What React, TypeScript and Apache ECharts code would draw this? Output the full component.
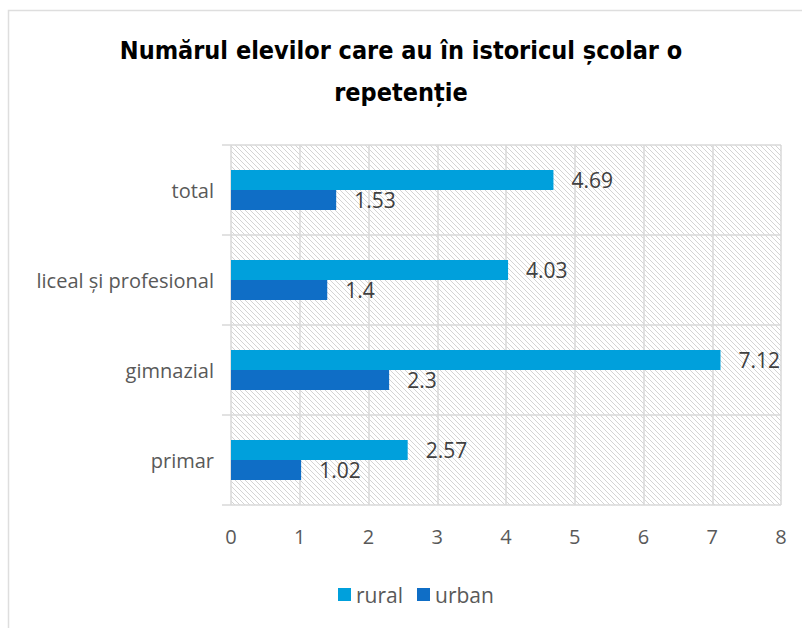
import React, { useEffect, useRef } from "react";
import * as echarts from "echarts";

const titleText = "Numărul elevilor care au în istoricul școlar o\nrepetenție";
const categories = ["primar", "gimnazial", "liceal și profesional", "total"];
const seriesNames = ["rural", "urban"];
const ruralValues = [2.57, 7.12, 4.03, 4.69];
const urbanValues = [1.02, 2.3, 1.4, 1.53];
const xTicks = { min: 0, max: 8, interval: 1 };

function makeHatch(): string {
  const s = 5;
  const c = document.createElement("canvas");
  c.width = s;
  c.height = s;
  const ctx = c.getContext("2d")!;
  ctx.fillStyle = "#ffffff";
  ctx.fillRect(0, 0, s, s);
  ctx.strokeStyle = "#d4d4d4";
  ctx.lineWidth = 1;
  ctx.beginPath();
  ctx.moveTo(-1, -1);
  ctx.lineTo(s + 1, s + 1);
  ctx.moveTo(-1, s - 1);
  ctx.lineTo(1, s + 1);
  ctx.moveTo(s - 1, -1);
  ctx.lineTo(s + 1, 1);
  ctx.stroke();
  return c.toDataURL();
}

export default function App() {
  const ref = useRef<HTMLDivElement>(null);
  useEffect(() => {
    if (!ref.current) return;
    const chart = echarts.init(ref.current, undefined, { renderer: "svg" });
    const hatch = makeHatch();
    const labelFont = "'Open Sans', 'Noto Sans', sans-serif";
    chart.setOption({
      animation: false,
      backgroundColor: "#ffffff",
      title: {
        text: titleText,
        left: "center",
        top: 24,
        textStyle: {
          fontFamily: "'Liberation Sans Narrow', 'Arial Narrow', 'DejaVu Sans Condensed', sans-serif",
          fontWeight: "bold",
          fontSize: 25,
          lineHeight: 42,
          color: "#000000",
        },
      },
      graphic: [
        {
          type: "rect",
          shape: { x: 8.5, y: 10.5, width: 820, height: 640 },
          style: { fill: "none", stroke: "#dedede", lineWidth: 1.5 },
          silent: true,
          z: 100,
        },
      ],
      legend: {
        bottom: 18,
        left: 333,
        icon: "rect",
        itemWidth: 13,
        itemHeight: 13,
        itemGap: 14,
        textStyle: { color: "#595959", fontSize: 21, fontFamily: labelFont },
        data: seriesNames,
      },
      grid: {
        left: 231,
        right: 21,
        top: 145,
        bottom: 123,
        show: true,
        borderWidth: 0,
        backgroundColor: { image: hatch, repeat: "repeat", imageWidth: 5, imageHeight: 5 },
      },
      xAxis: {
        type: "value",
        min: xTicks.min,
        max: xTicks.max,
        interval: xTicks.interval,
        axisLine: { show: false },
        axisTick: { show: false },
        axisLabel: { color: "#595959", fontSize: 20, fontFamily: labelFont, margin: 21 },
        splitLine: { show: true, lineStyle: { color: "#d9d9d9", width: 1.5 } },
      },
      yAxis: {
        type: "category",
        data: categories,
        axisLine: { show: false },
        axisTick: { show: true, length: 9, lineStyle: { color: "#d9d9d9", width: 1.5 } },
        axisLabel: { color: "#595959", fontSize: 20, fontFamily: labelFont, margin: 17 },
        splitLine: { show: true, lineStyle: { color: "#d9d9d9", width: 1.5 } },
      },
      series: [
        {
          name: seriesNames[0],
          type: "bar",
          data: ruralValues,
          barWidth: 20,
          barGap: "0%",
          itemStyle: { color: "#00a0dc" },
          label: {
            show: true,
            position: "right",
            distance: 18,
            color: "#404040",
            fontSize: 21,
            fontFamily: labelFont,
          },
        },
        {
          name: seriesNames[1],
          type: "bar",
          data: urbanValues,
          barWidth: 20,
          barGap: "0%",
          itemStyle: { color: "#0f6ec6" },
          label: {
            show: true,
            position: "right",
            distance: 18,
            color: "#404040",
            fontSize: 21,
            fontFamily: labelFont,
          },
        },
      ],
    });
    return () => chart.dispose();
  }, []);
  return (
    <div
      ref={ref}
      style={{ position: "fixed", left: 0, top: 0, width: 802, height: 628 }}
    />
  );
}
